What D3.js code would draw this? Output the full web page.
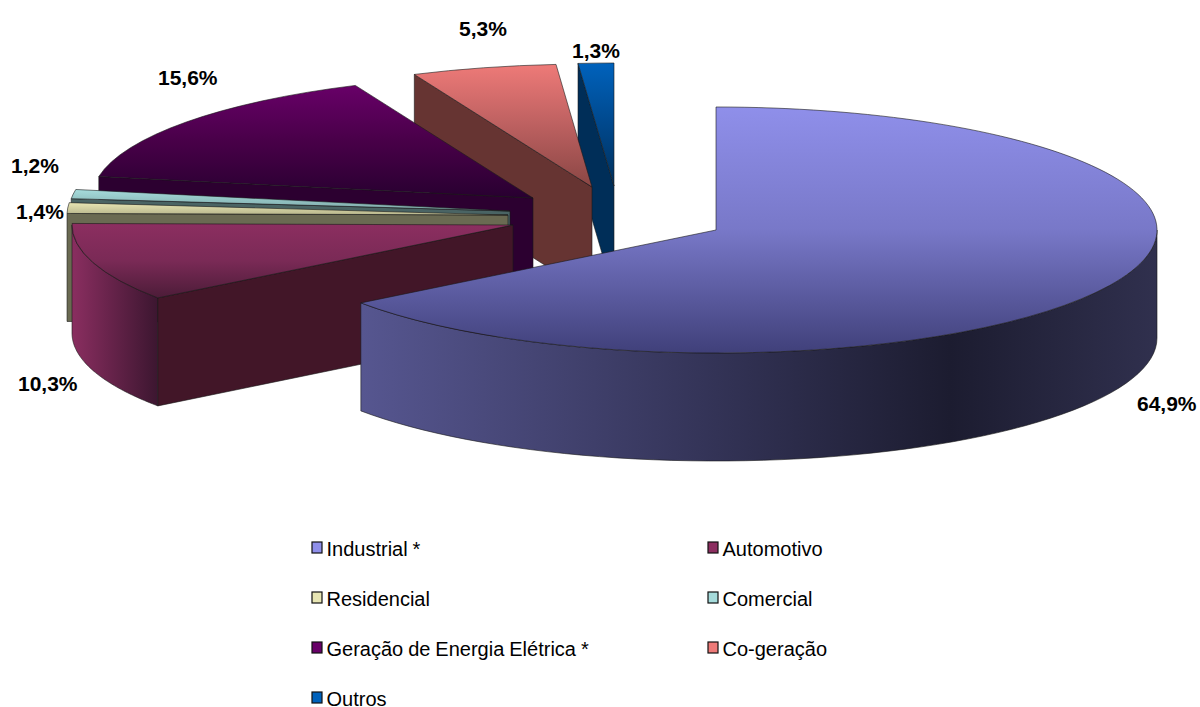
<!DOCTYPE html>
<html>
<head>
<meta charset="utf-8">
<script src="https://cdn.jsdelivr.net/npm/d3@7"></script>
<style>
  html, body { margin: 0; background: #fff; }
  svg { display: block; font-family: "Liberation Sans", Arial, sans-serif; }
</style>
</head>
<body>
<script>
// valores
var categories = ["Industrial *", "Automotivo", "Residencial", "Comercial", "Geração de Energia Elétrica *", "Co-geração", "Outros"];
var values = [64.9, 10.3, 1.4, 1.2, 15.6, 5.3, 1.3];

// cores: topo claro, topo meio, topo escuro, parede clara, parede escura, corte
var topLight = ["#8f8fea", "#8c2e60", "#e8e6b4", "#a6dcdc", "#680068", "#ee7a78", "#0062bc"];
var topMid = ["#7878c8", "#7a2a56", "#d0cea0", "#92c2c2", "#480048", "#bc6060", "#00488c"];
var topDark = ["#40407a", "#4c1c38", "#b8b68c", "#7fa8a8", "#280030", "#8a4644", "#00305c"];
var wallLight = ["#565690", "#8a2e60", "#6a6a52", "#4a6464", "#300038", "#6a3434", "#002e58"];
var wallDark = ["#1c1c30", "#3c1630", "#6a6a52", "#4a6464", "#300038", "#6a3434", "#002e58"];
var cutColor = ["#2a2a48", "#421628", "#6a6a52", "#4a6464", "#2c0030", "#663432", "#002e58"];

// centro de cada fatia (pizza explodida)
var centerX = [716, 513, 508, 510, 533, 592, 614];
var centerY = [230, 225, 215, 211, 198, 187, 186];
var labelX = [1137, 18, 16, 11, 158, 459, 572];
var labelY = [411, 391, 219, 173, 85, 36, 58];

var width = 1200, height = 707;
var rx = 441, ry = 123, depth = 108;
var drawOrder = [6, 5, 4, 3, 2, 1, 0];

var svg = d3.select("body").append("svg")
  .attr("width", width)
  .attr("height", height);
var defs = svg.append("defs");

var pie = d3.pie().sort(null).value(function(d) { return d; });
var arcs = pie(values);
var arc = d3.arc().innerRadius(0).outerRadius(rx);
var line = d3.line();

function gradient(id, horizontal, x1, x2, stops) {
  var g = defs.append("linearGradient")
    .attr("id", id)
    .attr("gradientUnits", "userSpaceOnUse")
    .attr("x1", horizontal ? x1 : 0).attr("x2", horizontal ? x2 : 0)
    .attr("y1", horizontal ? 0 : x1).attr("y2", horizontal ? 0 : x2);
  stops.forEach(function(s) {
    g.append("stop").attr("offset", s[0]).attr("stop-color", s[1]);
  });
  return g;
}

function point(i, a, dy) {
  return [centerX[i] + rx * Math.sin(a), centerY[i] - ry * Math.cos(a) + (dy || 0)];
}

function slice(i) {
  var d = arcs[i];
  var g = svg.append("g");
  var a0 = Math.max(d.startAngle, Math.PI / 2);
  var a1 = Math.min(d.endAngle, 3 * Math.PI / 2);

  // parede externa
  if (a1 > a0) {
    var top = d3.range(0, 61).map(function(k) { return point(i, a0 + (a1 - a0) * k / 60); });
    var bottom = d3.range(60, -1, -1).map(function(k) { return point(i, a0 + (a1 - a0) * k / 60, depth); });
    var xs = top.map(function(p) { return p[0]; });
    gradient("wall" + i, true, d3.min(xs), d3.max(xs), i === 0
      ? [[0, wallLight[i]], [0.74, wallDark[i]], [1, "#30304e"]]
      : [[0, wallLight[i]], [1, wallDark[i]]]);
    g.append("path")
      .attr("d", line(top.concat(bottom)) + "Z")
      .attr("fill", "url(#wall" + i + ")")
      .attr("stroke", "#1a1a1a").attr("stroke-width", 0.6);
  }

  // parede do corte
  if (Math.sin(d.startAngle) < -1e-6) {
    var p = point(i, d.startAngle);
    var c = [centerX[i], centerY[i]];
    g.append("path")
      .attr("d", line([p, c, [c[0], c[1] + depth], [p[0], p[1] + depth]]) + "Z")
      .attr("fill", cutColor[i])
      .attr("stroke", "#1a1a1a").attr("stroke-width", 0.6);
  }

  // topo: o path é escalado, então o gradiente volta para as coordenadas da tela
  var ys = d3.range(0, 41).map(function(k) { return point(i, d.startAngle + (d.endAngle - d.startAngle) * k / 40)[1]; });
  ys.push(centerY[i]);
  gradient("top" + i, false, d3.min(ys), d3.max(ys), [[0, topLight[i]], [0.5, topMid[i]], [1, topDark[i]]])
    .attr("gradientTransform", "scale(1," + (rx / ry) + ") translate(0," + (-centerY[i]) + ")");
  g.append("path")
    .attr("d", arc(d))
    .attr("transform", "translate(" + centerX[i] + "," + centerY[i] + ") scale(1," + (ry / rx) + ")")
    .attr("fill", "url(#top" + i + ")")
    .attr("stroke", "#1a1a1a").attr("stroke-width", 0.6)
    .attr("vector-effect", "non-scaling-stroke");
}

drawOrder.forEach(slice);

// rótulos
var fmt = function(v) { return v.toFixed(1).replace(".", ",") + "%"; };
svg.append("g").selectAll("text")
  .data(values)
  .enter().append("text")
  .attr("x", function(d, i) { return labelX[i]; })
  .attr("y", function(d, i) { return labelY[i]; })
  .attr("font-size", 21)
  .attr("font-weight", "bold")
  .attr("fill", "#000")
  .text(fmt);

// legenda
var legendCol = d3.scalePoint().domain([0, 1]).range([312, 708]);
var legendRow = d3.scalePoint().domain([0, 1, 2, 3]).range([548, 698]);
var legend = svg.append("g").selectAll("g")
  .data(categories)
  .enter().append("g")
  .attr("transform", function(d, i) {
    return "translate(" + legendCol(i % 2) + "," + legendRow(Math.floor(i / 2)) + ")";
  });
legend.append("rect")
  .attr("x", 0).attr("y", -6)
  .attr("width", 10).attr("height", 11)
  .attr("fill", function(d, i) { return topLight[i]; })
  .attr("stroke", "#111").attr("stroke-width", 1.2);
legend.append("text")
  .attr("x", 14.5).attr("y", 7.5)
  .attr("font-size", 20)
  .attr("word-spacing", -0.6)
  .attr("fill", "#000")
  .text(function(d) { return d; });
</script>
</body>
</html>
